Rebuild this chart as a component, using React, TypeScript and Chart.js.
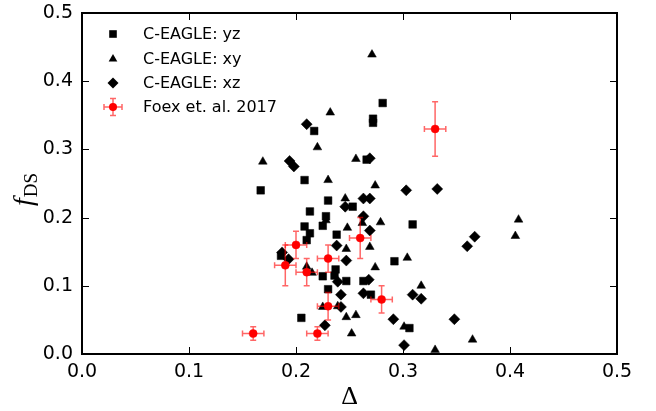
import React, { useEffect, useRef } from 'react';
import { Chart, registerables } from 'chart.js';

Chart.register(...registerables);

// ---- data ----
const seriesLabels = ['C-EAGLE: yz', 'C-EAGLE: xy', 'C-EAGLE: xz', 'Foex et. al. 2017'];

const yzX = [0.217, 0.208, 0.167, 0.281, 0.272, 0.272, 0.266, 0.230, 0.253, 0.213, 0.228, 0.208, 0.225, 0.213, 0.210, 0.238, 0.309, 0.186, 0.292, 0.225, 0.237, 0.236, 0.247, 0.263, 0.230, 0.270, 0.205, 0.306];
const yzY = [0.327, 0.255, 0.240, 0.368, 0.345, 0.339, 0.285, 0.225, 0.216, 0.209, 0.202, 0.187, 0.188, 0.177, 0.167, 0.175, 0.190, 0.144, 0.136, 0.114, 0.124, 0.115, 0.107, 0.107, 0.095, 0.087, 0.053, 0.038];

const xyX = [0.271, 0.232, 0.220, 0.169, 0.230, 0.256, 0.274, 0.246, 0.228, 0.248, 0.262, 0.279, 0.247, 0.269, 0.304, 0.274, 0.210, 0.215, 0.317, 0.225, 0.239, 0.247, 0.256, 0.252, 0.301, 0.405, 0.408, 0.365, 0.330];
const xyY = [0.439, 0.354, 0.303, 0.282, 0.255, 0.286, 0.247, 0.228, 0.196, 0.185, 0.192, 0.193, 0.154, 0.157, 0.141, 0.127, 0.128, 0.119, 0.100, 0.069, 0.070, 0.054, 0.057, 0.030, 0.040, 0.173, 0.197, 0.021, 0.006];

const xzX = [0.210, 0.194, 0.198, 0.269, 0.303, 0.263, 0.269, 0.246, 0.263, 0.269, 0.238, 0.187, 0.193, 0.247, 0.239, 0.268, 0.242, 0.263, 0.309, 0.317, 0.242, 0.291, 0.227, 0.301, 0.332, 0.367, 0.360, 0.348];
const xzY = [0.337, 0.283, 0.275, 0.287, 0.240, 0.228, 0.228, 0.216, 0.202, 0.181, 0.159, 0.149, 0.139, 0.137, 0.106, 0.109, 0.087, 0.089, 0.087, 0.081, 0.069, 0.051, 0.042, 0.013, 0.242, 0.172, 0.158, 0.051];

const foexX = [0.16, 0.19, 0.20, 0.21, 0.22, 0.23, 0.23, 0.26, 0.28, 0.33];
const foexY = [0.03, 0.13, 0.16, 0.12, 0.03, 0.14, 0.07, 0.17, 0.08, 0.33];
const foexXErr = [0.01, 0.01, 0.01, 0.01, 0.01, 0.01, 0.01, 0.01, 0.01, 0.01];
const foexYErr = [0.01, 0.03, 0.02, 0.02, 0.01, 0.02, 0.02, 0.03, 0.02, 0.04];

const tickValues = [0.0, 0.1, 0.2, 0.3, 0.4, 0.5];
const xTitle = 'Δ';
const yTitleMain = 'f';
const yTitleSub = 'DS';

const ERR_COLOR = 'rgba(255,0,0,0.6)';

const toPoints = (xs: number[], ys: number[]) => xs.map((x, i) => ({ x, y: ys[i] }));

function drawMarker(ctx: CanvasRenderingContext2D, kind: string, x: number, y: number) {
  ctx.beginPath();
  if (kind === 'rect') {
    ctx.rect(x - 3.8, y - 3.8, 7.6, 7.6);
  } else if (kind === 'triangle') {
    const r = 5;
    ctx.moveTo(x, y - r);
    ctx.lineTo(x + r * 0.866, y + r / 2);
    ctx.lineTo(x - r * 0.866, y + r / 2);
    ctx.closePath();
  } else if (kind === 'rectRot') {
    const r = 5.5;
    ctx.moveTo(x, y - r);
    ctx.lineTo(x + r, y);
    ctx.lineTo(x, y + r);
    ctx.lineTo(x - r, y);
    ctx.closePath();
  } else {
    ctx.arc(x, y, 4, 0, Math.PI * 2);
  }
  ctx.fill();
}

const decorPlugin = {
  id: 'decor',
  beforeDatasetDraw(chart: any, args: any) {
    if (args.index !== 3) return;
    const { ctx, scales } = chart;
    const xs = scales.x, ys = scales.y;
    ctx.save();
    ctx.strokeStyle = ERR_COLOR;
    ctx.lineWidth = 1.5;
    foexX.forEach((vx, i) => {
      const px = xs.getPixelForValue(vx);
      const py = ys.getPixelForValue(foexY[i]);
      const x0 = xs.getPixelForValue(vx - foexXErr[i]);
      const x1 = xs.getPixelForValue(vx + foexXErr[i]);
      const y0 = ys.getPixelForValue(foexY[i] - foexYErr[i]);
      const y1 = ys.getPixelForValue(foexY[i] + foexYErr[i]);
      ctx.beginPath();
      ctx.moveTo(x0, py); ctx.lineTo(x1, py);
      ctx.moveTo(px, y0); ctx.lineTo(px, y1);
      ctx.moveTo(x0, py - 3); ctx.lineTo(x0, py + 3);
      ctx.moveTo(x1, py - 3); ctx.lineTo(x1, py + 3);
      ctx.moveTo(px - 3, y0); ctx.lineTo(px + 3, y0);
      ctx.moveTo(px - 3, y1); ctx.lineTo(px + 3, y1);
      ctx.stroke();
    });
    ctx.restore();
  },
  afterDraw(chart: any) {
    const { ctx, chartArea, scales } = chart;
    const { left, right, top, bottom } = chartArea;
    const xs = scales.x, ys = scales.y;
    ctx.save();
    // inside ticks
    ctx.strokeStyle = '#000';
    ctx.lineWidth = 1;
    const tl = 7;
    ctx.beginPath();
    tickValues.forEach((v) => {
      const px = Math.round(xs.getPixelForValue(v)) + 0.5;
      ctx.moveTo(px, bottom); ctx.lineTo(px, bottom - tl);
      ctx.moveTo(px, top); ctx.lineTo(px, top + tl);
      const py = Math.round(ys.getPixelForValue(v)) + 0.5;
      ctx.moveTo(left, py); ctx.lineTo(left + tl, py);
      ctx.moveTo(right, py); ctx.lineTo(right - tl, py);
    });
    ctx.stroke();
    // frame
    ctx.lineWidth = 2;
    ctx.strokeRect(left, top, right - left, bottom - top);

    // x title
    ctx.fillStyle = '#000';
    ctx.font = '26px "Liberation Serif"';
    ctx.textAlign = 'center';
    ctx.textBaseline = 'alphabetic';
    ctx.fillText(xTitle, (left + right) / 2, 404);

    // y title (rotated)
    ctx.save();
    ctx.translate(32, 206);
    ctx.rotate(-Math.PI / 2);
    ctx.textAlign = 'left';
    ctx.font = 'italic 28px "Liberation Serif"';
    ctx.fillText(yTitleMain, 0, 0);
    const fw = ctx.measureText(yTitleMain).width;
    ctx.font = '19px "Liberation Serif"';
    ctx.fillText(yTitleSub, fw + 1, 5);
    ctx.restore();

    // legend
    const kinds = ['rect', 'triangle', 'rectRot', 'circle'];
    const mx = left + 31;
    const rows = [34, 59, 83, 107];
    ctx.font = '16px "DejaVu Sans"';
    ctx.textAlign = 'left';
    ctx.textBaseline = 'middle';
    kinds.forEach((k, i) => {
      const yy = rows[i];
      if (k === 'circle') {
        ctx.strokeStyle = ERR_COLOR;
        ctx.lineWidth = 1.5;
        ctx.beginPath();
        ctx.moveTo(mx - 9, yy); ctx.lineTo(mx + 9, yy);
        ctx.moveTo(mx, yy - 8.5); ctx.lineTo(mx, yy + 8.5);
        ctx.moveTo(mx - 9, yy - 3); ctx.lineTo(mx - 9, yy + 3);
        ctx.moveTo(mx + 9, yy - 3); ctx.lineTo(mx + 9, yy + 3);
        ctx.moveTo(mx - 3, yy - 8.5); ctx.lineTo(mx + 3, yy - 8.5);
        ctx.moveTo(mx - 3, yy + 8.5); ctx.lineTo(mx + 3, yy + 8.5);
        ctx.stroke();
        ctx.fillStyle = '#ff0000';
      } else {
        ctx.fillStyle = '#000';
      }
      drawMarker(ctx, k, mx, yy);
      ctx.fillStyle = '#000';
      ctx.fillText(chart.data.datasets[i].label, left + 61, yy + 1);
    });
    ctx.restore();
  },
};

export default function App() {
  const ref = useRef<HTMLCanvasElement>(null);
  useEffect(() => {
    if (!ref.current) return;
    const tickFont = { family: 'DejaVu Sans', size: 19 };
    const chart = new Chart(ref.current, {
      type: 'scatter',
      data: {
        datasets: [
          { label: seriesLabels[0], data: toPoints(yzX, yzY), pointStyle: 'rect', pointRadius: 5.4, backgroundColor: '#000', borderColor: '#000', borderWidth: 0.5, order: 3 },
          { label: seriesLabels[1], data: toPoints(xyX, xyY), pointStyle: 'triangle', pointRadius: 5, backgroundColor: '#000', borderColor: '#000', borderWidth: 0.5, order: 2 },
          { label: seriesLabels[2], data: toPoints(xzX, xzY), pointStyle: 'rectRot', pointRadius: 5.5, backgroundColor: '#000', borderColor: '#000', borderWidth: 0.5, order: 1 },
          { label: seriesLabels[3], data: toPoints(foexX, foexY), pointStyle: 'circle', pointRadius: 4, backgroundColor: '#ff0000', borderColor: '#ff0000', borderWidth: 0.5, order: 0 },
        ],
      },
      options: {
        responsive: false,
        animation: false,
        devicePixelRatio: 1,
        layout: { padding: { top: 13, right: 39, left: 0, bottom: 0 } },
        plugins: { legend: { display: false }, tooltip: { enabled: false } },
        scales: {
          x: {
            type: 'linear', min: 0, max: 0.5,
            afterBuildTicks: (s: any) => { s.ticks = tickValues.map((v) => ({ value: v })); },
            afterFit: (s: any) => { s.height = 57; s.paddingLeft = 0; s.paddingRight = 0; },
            ticks: { callback: (v: any) => Number(v).toFixed(1), font: tickFont, color: '#000', padding: 7, maxRotation: 0, autoSkip: false },
            grid: { display: false, drawTicks: false },
            border: { display: false },
          },
          y: {
            type: 'linear', min: 0, max: 0.5,
            afterBuildTicks: (s: any) => { s.ticks = tickValues.map((v) => ({ value: v })); },
            afterFit: (s: any) => { s.width = 82; s.paddingTop = 0; s.paddingBottom = 0; },
            ticks: { callback: (v: any) => Number(v).toFixed(1), font: tickFont, color: '#000', padding: 9, autoSkip: false },
            grid: { display: false, drawTicks: false },
            border: { display: false },
          },
        },
      },
      plugins: [decorPlugin],
    } as any);
    return () => chart.destroy();
  }, []);
  return (
    <div style={{ position: 'absolute', left: 0, top: 0, width: 656, height: 411, background: '#fff' }}>
      <canvas ref={ref} width={656} height={411} style={{ display: 'block' }} />
    </div>
  );
}
